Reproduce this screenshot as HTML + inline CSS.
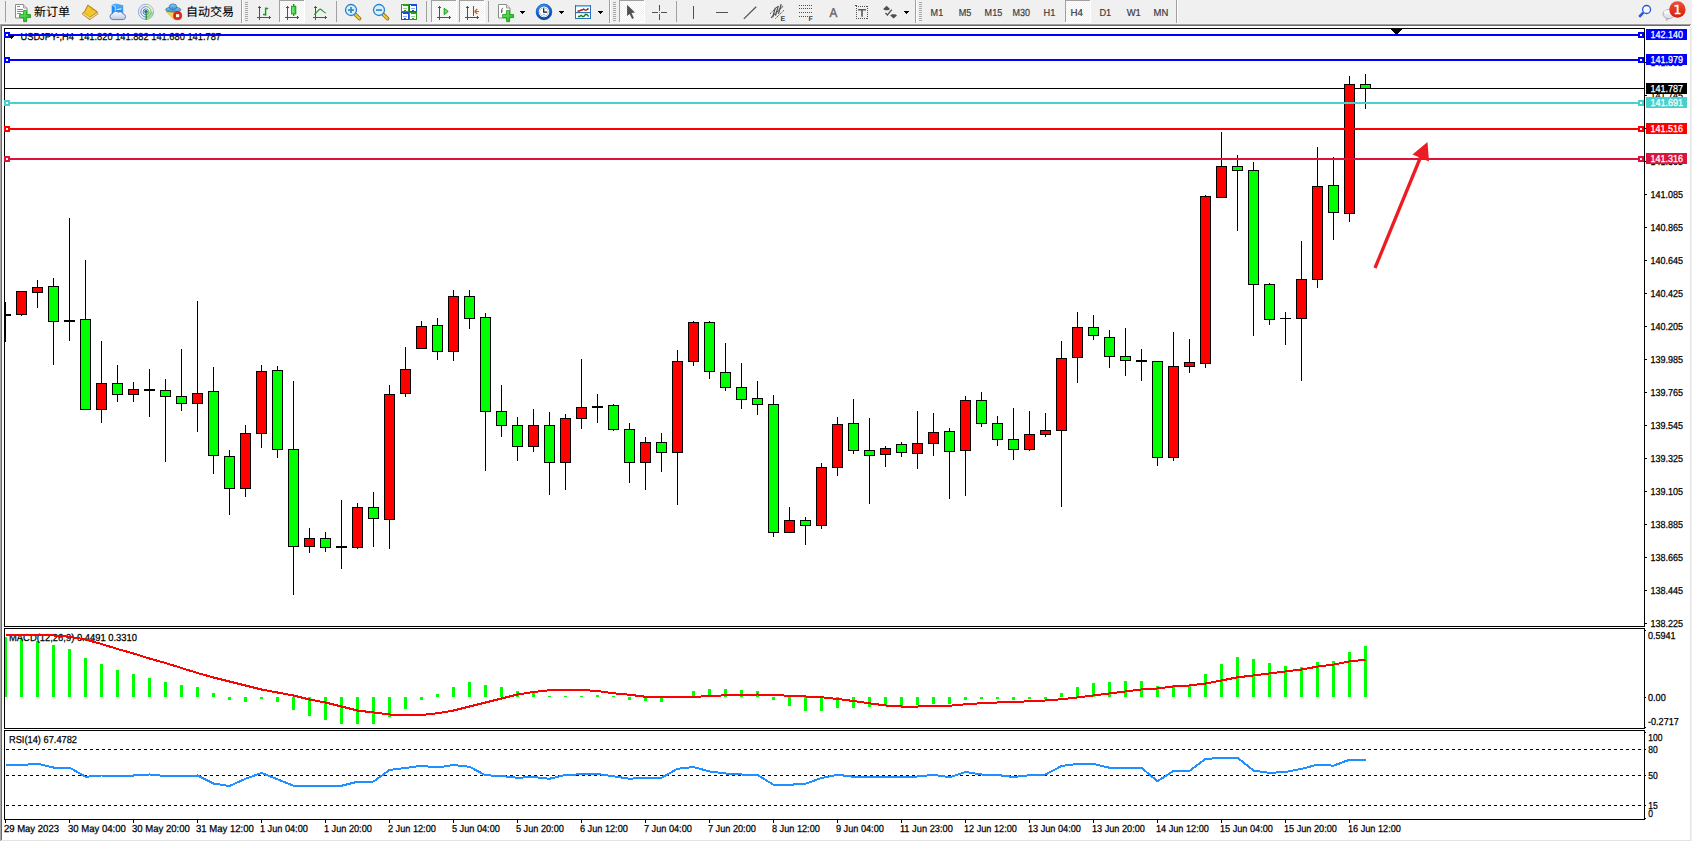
<!DOCTYPE html>
<html><head><meta charset="utf-8"><title>USDJPY-,H4</title>
<style>html,body{margin:0;padding:0;background:#fff}body{width:1692px;height:842px;position:relative;overflow:hidden}text{white-space:pre}</style></head>
<body>
<svg width="1692" height="842" viewBox="0 0 1692 842" shape-rendering="crispEdges" font-family="'Liberation Sans','Noto Sans CJK SC',sans-serif" style="position:absolute;left:0;top:0;display:block;text-rendering:geometricPrecision">
<rect x="0" y="0" width="1692" height="842" fill="#fff"/>
<rect x="0" y="0" width="1692" height="24" fill="#f0f0f0"/>
<rect x="0" y="23" width="1692" height="1" fill="#f3f3f3"/>
<rect x="0" y="24" width="1691" height="1" fill="#a0a0a0"/>
<rect x="0" y="25" width="1690" height="1" fill="#696969"/>
<rect x="0" y="24" width="1" height="817" fill="#a8a8a8"/>
<rect x="1" y="25" width="1" height="815" fill="#696969"/>
<rect x="1690" y="26" width="1" height="815" fill="#e3e3e3"/>
<rect x="1" y="840" width="1690" height="1" fill="#e3e3e3"/>
<rect x="1691" y="0" width="1" height="842" fill="#f0f0f0"/>
<rect x="0" y="841" width="1692" height="1" fill="#fff"/>
<rect x="4" y="28" width="1641" height="1" fill="#000"/>
<rect x="4" y="28" width="1" height="792" fill="#000"/>
<rect x="1644" y="28" width="1" height="792" fill="#000"/>
<rect x="4" y="626" width="1641" height="1" fill="#000"/>
<rect x="4" y="628" width="1641" height="1" fill="#000"/>
<rect x="4" y="728" width="1641" height="1" fill="#000"/>
<rect x="4" y="730" width="1641" height="1" fill="#000"/>
<rect x="4" y="819" width="1641" height="1" fill="#000"/>
<rect x="4" y="627" width="1641" height="1" fill="#fff"/>
<rect x="4" y="729" width="1641" height="1" fill="#fff"/>
<clipPath id="cpm"><rect x="1645" y="29" width="46" height="600"/></clipPath>
<g clip-path="url(#cpm)">
<rect x="1645" y="62" width="2" height="1" fill="#000"/>
<text x="1650.5" y="66" font-size="10.1" fill="#000" stroke="#000" stroke-width="0.25" textLength="32.5" lengthAdjust="spacingAndGlyphs">141.965</text>
<rect x="1645" y="95" width="2" height="1" fill="#000"/>
<text x="1650.5" y="99" font-size="10.1" fill="#000" stroke="#000" stroke-width="0.25" textLength="32.5" lengthAdjust="spacingAndGlyphs">141.745</text>
<rect x="1645" y="128" width="2" height="1" fill="#000"/>
<text x="1650.5" y="132" font-size="10.1" fill="#000" stroke="#000" stroke-width="0.25" textLength="32.5" lengthAdjust="spacingAndGlyphs">141.525</text>
<rect x="1645" y="161" width="2" height="1" fill="#000"/>
<text x="1650.5" y="165" font-size="10.1" fill="#000" stroke="#000" stroke-width="0.25" textLength="32.5" lengthAdjust="spacingAndGlyphs">141.305</text>
<rect x="1645" y="194" width="2" height="1" fill="#000"/>
<text x="1650.5" y="198" font-size="10.1" fill="#000" stroke="#000" stroke-width="0.25" textLength="32.5" lengthAdjust="spacingAndGlyphs">141.085</text>
<rect x="1645" y="227" width="2" height="1" fill="#000"/>
<text x="1650.5" y="231" font-size="10.1" fill="#000" stroke="#000" stroke-width="0.25" textLength="32.5" lengthAdjust="spacingAndGlyphs">140.865</text>
<rect x="1645" y="260" width="2" height="1" fill="#000"/>
<text x="1650.5" y="264" font-size="10.1" fill="#000" stroke="#000" stroke-width="0.25" textLength="32.5" lengthAdjust="spacingAndGlyphs">140.645</text>
<rect x="1645" y="293" width="2" height="1" fill="#000"/>
<text x="1650.5" y="297" font-size="10.1" fill="#000" stroke="#000" stroke-width="0.25" textLength="32.5" lengthAdjust="spacingAndGlyphs">140.425</text>
<rect x="1645" y="326" width="2" height="1" fill="#000"/>
<text x="1650.5" y="330" font-size="10.1" fill="#000" stroke="#000" stroke-width="0.25" textLength="32.5" lengthAdjust="spacingAndGlyphs">140.205</text>
<rect x="1645" y="359" width="2" height="1" fill="#000"/>
<text x="1650.5" y="363" font-size="10.1" fill="#000" stroke="#000" stroke-width="0.25" textLength="32.5" lengthAdjust="spacingAndGlyphs">139.985</text>
<rect x="1645" y="392" width="2" height="1" fill="#000"/>
<text x="1650.5" y="396" font-size="10.1" fill="#000" stroke="#000" stroke-width="0.25" textLength="32.5" lengthAdjust="spacingAndGlyphs">139.765</text>
<rect x="1645" y="425" width="2" height="1" fill="#000"/>
<text x="1650.5" y="429" font-size="10.1" fill="#000" stroke="#000" stroke-width="0.25" textLength="32.5" lengthAdjust="spacingAndGlyphs">139.545</text>
<rect x="1645" y="458" width="2" height="1" fill="#000"/>
<text x="1650.5" y="462" font-size="10.1" fill="#000" stroke="#000" stroke-width="0.25" textLength="32.5" lengthAdjust="spacingAndGlyphs">139.325</text>
<rect x="1645" y="491" width="2" height="1" fill="#000"/>
<text x="1650.5" y="495" font-size="10.1" fill="#000" stroke="#000" stroke-width="0.25" textLength="32.5" lengthAdjust="spacingAndGlyphs">139.105</text>
<rect x="1645" y="524" width="2" height="1" fill="#000"/>
<text x="1650.5" y="528" font-size="10.1" fill="#000" stroke="#000" stroke-width="0.25" textLength="32.5" lengthAdjust="spacingAndGlyphs">138.885</text>
<rect x="1645" y="557" width="2" height="1" fill="#000"/>
<text x="1650.5" y="561" font-size="10.1" fill="#000" stroke="#000" stroke-width="0.25" textLength="32.5" lengthAdjust="spacingAndGlyphs">138.665</text>
<rect x="1645" y="590" width="2" height="1" fill="#000"/>
<text x="1650.5" y="594" font-size="10.1" fill="#000" stroke="#000" stroke-width="0.25" textLength="32.5" lengthAdjust="spacingAndGlyphs">138.445</text>
<rect x="1645" y="623" width="2" height="1" fill="#000"/>
<text x="1650.5" y="627" font-size="10.1" fill="#000" stroke="#000" stroke-width="0.25" textLength="32.5" lengthAdjust="spacingAndGlyphs">138.225</text>
</g>
<text x="20.5" y="40" font-size="10.1" fill="#000" stroke="#000" stroke-width="0.25" textLength="200.5" lengthAdjust="spacingAndGlyphs" xml:space="preserve">USDJPY-,H4&#160;&#160;141.820 141.882 141.680 141.787</text>
<rect x="1391" y="29" width="11" height="1" fill="#000"/>
<rect x="1392" y="30" width="9" height="1" fill="#000"/>
<rect x="1393" y="31" width="7" height="1" fill="#000"/>
<rect x="1394" y="32" width="5" height="1" fill="#000"/>
<rect x="1395" y="33" width="3" height="1" fill="#000"/>
<rect x="1396" y="34" width="1" height="1" fill="#000"/>
<rect x="5" y="88" width="1639" height="1" fill="#000"/>
<rect x="5" y="302" width="1" height="40" fill="#000"/>
<rect x="5" y="314" width="6" height="2" fill="#000"/>
<rect x="21" y="291" width="1" height="25" fill="#000"/>
<rect x="16" y="291" width="11" height="24" fill="#000"/>
<rect x="17" y="292" width="9" height="22" fill="#ff0000"/>
<rect x="37" y="280" width="1" height="28" fill="#000"/>
<rect x="32" y="287" width="11" height="6" fill="#000"/>
<rect x="33" y="288" width="9" height="4" fill="#ff0000"/>
<rect x="53" y="278" width="1" height="87" fill="#000"/>
<rect x="48" y="286" width="11" height="36" fill="#000"/>
<rect x="49" y="287" width="9" height="34" fill="#00ff00"/>
<rect x="69" y="218" width="1" height="123" fill="#000"/>
<rect x="64" y="320" width="11" height="2" fill="#000"/>
<rect x="85" y="260" width="1" height="150" fill="#000"/>
<rect x="80" y="319" width="11" height="91" fill="#000"/>
<rect x="81" y="320" width="9" height="89" fill="#00ff00"/>
<rect x="101" y="341" width="1" height="82" fill="#000"/>
<rect x="96" y="383" width="11" height="27" fill="#000"/>
<rect x="97" y="384" width="9" height="25" fill="#ff0000"/>
<rect x="117" y="365" width="1" height="37" fill="#000"/>
<rect x="112" y="383" width="11" height="12" fill="#000"/>
<rect x="113" y="384" width="9" height="10" fill="#00ff00"/>
<rect x="133" y="382" width="1" height="20" fill="#000"/>
<rect x="128" y="389" width="11" height="6" fill="#000"/>
<rect x="129" y="390" width="9" height="4" fill="#ff0000"/>
<rect x="149" y="369" width="1" height="48" fill="#000"/>
<rect x="144" y="389" width="11" height="2" fill="#000"/>
<rect x="165" y="379" width="1" height="83" fill="#000"/>
<rect x="160" y="390" width="11" height="7" fill="#000"/>
<rect x="161" y="391" width="9" height="5" fill="#00ff00"/>
<rect x="181" y="349" width="1" height="62" fill="#000"/>
<rect x="176" y="396" width="11" height="8" fill="#000"/>
<rect x="177" y="397" width="9" height="6" fill="#00ff00"/>
<rect x="197" y="301" width="1" height="131" fill="#000"/>
<rect x="192" y="393" width="11" height="11" fill="#000"/>
<rect x="193" y="394" width="9" height="9" fill="#ff0000"/>
<rect x="213" y="367" width="1" height="107" fill="#000"/>
<rect x="208" y="391" width="11" height="65" fill="#000"/>
<rect x="209" y="392" width="9" height="63" fill="#00ff00"/>
<rect x="229" y="450" width="1" height="65" fill="#000"/>
<rect x="224" y="456" width="11" height="33" fill="#000"/>
<rect x="225" y="457" width="9" height="31" fill="#00ff00"/>
<rect x="245" y="425" width="1" height="72" fill="#000"/>
<rect x="240" y="433" width="11" height="56" fill="#000"/>
<rect x="241" y="434" width="9" height="54" fill="#ff0000"/>
<rect x="261" y="365" width="1" height="83" fill="#000"/>
<rect x="256" y="371" width="11" height="63" fill="#000"/>
<rect x="257" y="372" width="9" height="61" fill="#ff0000"/>
<rect x="277" y="366" width="1" height="92" fill="#000"/>
<rect x="272" y="370" width="11" height="80" fill="#000"/>
<rect x="273" y="371" width="9" height="78" fill="#00ff00"/>
<rect x="293" y="381" width="1" height="214" fill="#000"/>
<rect x="288" y="449" width="11" height="98" fill="#000"/>
<rect x="289" y="450" width="9" height="96" fill="#00ff00"/>
<rect x="309" y="528" width="1" height="25" fill="#000"/>
<rect x="304" y="538" width="11" height="9" fill="#000"/>
<rect x="305" y="539" width="9" height="7" fill="#ff0000"/>
<rect x="325" y="532" width="1" height="20" fill="#000"/>
<rect x="320" y="538" width="11" height="10" fill="#000"/>
<rect x="321" y="539" width="9" height="8" fill="#00ff00"/>
<rect x="341" y="500" width="1" height="69" fill="#000"/>
<rect x="336" y="546" width="11" height="2" fill="#000"/>
<rect x="357" y="503" width="1" height="46" fill="#000"/>
<rect x="352" y="507" width="11" height="41" fill="#000"/>
<rect x="353" y="508" width="9" height="39" fill="#ff0000"/>
<rect x="373" y="492" width="1" height="55" fill="#000"/>
<rect x="368" y="507" width="11" height="12" fill="#000"/>
<rect x="369" y="508" width="9" height="10" fill="#00ff00"/>
<rect x="389" y="385" width="1" height="164" fill="#000"/>
<rect x="384" y="394" width="11" height="126" fill="#000"/>
<rect x="385" y="395" width="9" height="124" fill="#ff0000"/>
<rect x="405" y="347" width="1" height="50" fill="#000"/>
<rect x="400" y="369" width="11" height="25" fill="#000"/>
<rect x="401" y="370" width="9" height="23" fill="#ff0000"/>
<rect x="421" y="321" width="1" height="28" fill="#000"/>
<rect x="416" y="326" width="11" height="23" fill="#000"/>
<rect x="417" y="327" width="9" height="21" fill="#ff0000"/>
<rect x="437" y="318" width="1" height="42" fill="#000"/>
<rect x="432" y="325" width="11" height="27" fill="#000"/>
<rect x="433" y="326" width="9" height="25" fill="#00ff00"/>
<rect x="453" y="290" width="1" height="71" fill="#000"/>
<rect x="448" y="296" width="11" height="56" fill="#000"/>
<rect x="449" y="297" width="9" height="54" fill="#ff0000"/>
<rect x="469" y="290" width="1" height="39" fill="#000"/>
<rect x="464" y="296" width="11" height="23" fill="#000"/>
<rect x="465" y="297" width="9" height="21" fill="#00ff00"/>
<rect x="485" y="313" width="1" height="158" fill="#000"/>
<rect x="480" y="317" width="11" height="95" fill="#000"/>
<rect x="481" y="318" width="9" height="93" fill="#00ff00"/>
<rect x="501" y="385" width="1" height="52" fill="#000"/>
<rect x="496" y="411" width="11" height="15" fill="#000"/>
<rect x="497" y="412" width="9" height="13" fill="#00ff00"/>
<rect x="517" y="417" width="1" height="44" fill="#000"/>
<rect x="512" y="425" width="11" height="22" fill="#000"/>
<rect x="513" y="426" width="9" height="20" fill="#00ff00"/>
<rect x="533" y="409" width="1" height="43" fill="#000"/>
<rect x="528" y="425" width="11" height="22" fill="#000"/>
<rect x="529" y="426" width="9" height="20" fill="#ff0000"/>
<rect x="549" y="412" width="1" height="83" fill="#000"/>
<rect x="544" y="425" width="11" height="38" fill="#000"/>
<rect x="545" y="426" width="9" height="36" fill="#00ff00"/>
<rect x="565" y="414" width="1" height="76" fill="#000"/>
<rect x="560" y="418" width="11" height="45" fill="#000"/>
<rect x="561" y="419" width="9" height="43" fill="#ff0000"/>
<rect x="581" y="359" width="1" height="70" fill="#000"/>
<rect x="576" y="407" width="11" height="12" fill="#000"/>
<rect x="577" y="408" width="9" height="10" fill="#ff0000"/>
<rect x="597" y="394" width="1" height="29" fill="#000"/>
<rect x="592" y="406" width="11" height="2" fill="#000"/>
<rect x="613" y="404" width="1" height="27" fill="#000"/>
<rect x="608" y="405" width="11" height="25" fill="#000"/>
<rect x="609" y="406" width="9" height="23" fill="#00ff00"/>
<rect x="629" y="423" width="1" height="60" fill="#000"/>
<rect x="624" y="429" width="11" height="34" fill="#000"/>
<rect x="625" y="430" width="9" height="32" fill="#00ff00"/>
<rect x="645" y="437" width="1" height="53" fill="#000"/>
<rect x="640" y="442" width="11" height="21" fill="#000"/>
<rect x="641" y="443" width="9" height="19" fill="#ff0000"/>
<rect x="661" y="433" width="1" height="39" fill="#000"/>
<rect x="656" y="442" width="11" height="11" fill="#000"/>
<rect x="657" y="443" width="9" height="9" fill="#00ff00"/>
<rect x="677" y="350" width="1" height="155" fill="#000"/>
<rect x="672" y="361" width="11" height="92" fill="#000"/>
<rect x="673" y="362" width="9" height="90" fill="#ff0000"/>
<rect x="693" y="321" width="1" height="45" fill="#000"/>
<rect x="688" y="322" width="11" height="40" fill="#000"/>
<rect x="689" y="323" width="9" height="38" fill="#ff0000"/>
<rect x="709" y="321" width="1" height="58" fill="#000"/>
<rect x="704" y="322" width="11" height="50" fill="#000"/>
<rect x="705" y="323" width="9" height="48" fill="#00ff00"/>
<rect x="725" y="343" width="1" height="48" fill="#000"/>
<rect x="720" y="372" width="11" height="16" fill="#000"/>
<rect x="721" y="373" width="9" height="14" fill="#00ff00"/>
<rect x="741" y="363" width="1" height="46" fill="#000"/>
<rect x="736" y="387" width="11" height="13" fill="#000"/>
<rect x="737" y="388" width="9" height="11" fill="#00ff00"/>
<rect x="757" y="381" width="1" height="34" fill="#000"/>
<rect x="752" y="398" width="11" height="7" fill="#000"/>
<rect x="753" y="399" width="9" height="5" fill="#00ff00"/>
<rect x="773" y="395" width="1" height="142" fill="#000"/>
<rect x="768" y="404" width="11" height="129" fill="#000"/>
<rect x="769" y="405" width="9" height="127" fill="#00ff00"/>
<rect x="789" y="507" width="1" height="26" fill="#000"/>
<rect x="784" y="520" width="11" height="13" fill="#000"/>
<rect x="785" y="521" width="9" height="11" fill="#ff0000"/>
<rect x="805" y="517" width="1" height="28" fill="#000"/>
<rect x="800" y="520" width="11" height="6" fill="#000"/>
<rect x="801" y="521" width="9" height="4" fill="#00ff00"/>
<rect x="821" y="463" width="1" height="66" fill="#000"/>
<rect x="816" y="467" width="11" height="59" fill="#000"/>
<rect x="817" y="468" width="9" height="57" fill="#ff0000"/>
<rect x="837" y="417" width="1" height="59" fill="#000"/>
<rect x="832" y="424" width="11" height="44" fill="#000"/>
<rect x="833" y="425" width="9" height="42" fill="#ff0000"/>
<rect x="853" y="399" width="1" height="55" fill="#000"/>
<rect x="848" y="423" width="11" height="28" fill="#000"/>
<rect x="849" y="424" width="9" height="26" fill="#00ff00"/>
<rect x="869" y="418" width="1" height="86" fill="#000"/>
<rect x="864" y="450" width="11" height="6" fill="#000"/>
<rect x="865" y="451" width="9" height="4" fill="#00ff00"/>
<rect x="885" y="446" width="1" height="21" fill="#000"/>
<rect x="880" y="448" width="11" height="7" fill="#000"/>
<rect x="881" y="449" width="9" height="5" fill="#ff0000"/>
<rect x="901" y="442" width="1" height="15" fill="#000"/>
<rect x="896" y="444" width="11" height="9" fill="#000"/>
<rect x="897" y="445" width="9" height="7" fill="#00ff00"/>
<rect x="917" y="411" width="1" height="58" fill="#000"/>
<rect x="912" y="443" width="11" height="11" fill="#000"/>
<rect x="913" y="444" width="9" height="9" fill="#ff0000"/>
<rect x="933" y="413" width="1" height="43" fill="#000"/>
<rect x="928" y="432" width="11" height="12" fill="#000"/>
<rect x="929" y="433" width="9" height="10" fill="#ff0000"/>
<rect x="949" y="428" width="1" height="71" fill="#000"/>
<rect x="944" y="431" width="11" height="21" fill="#000"/>
<rect x="945" y="432" width="9" height="19" fill="#00ff00"/>
<rect x="965" y="396" width="1" height="100" fill="#000"/>
<rect x="960" y="400" width="11" height="51" fill="#000"/>
<rect x="961" y="401" width="9" height="49" fill="#ff0000"/>
<rect x="981" y="392" width="1" height="35" fill="#000"/>
<rect x="976" y="400" width="11" height="24" fill="#000"/>
<rect x="977" y="401" width="9" height="22" fill="#00ff00"/>
<rect x="997" y="416" width="1" height="30" fill="#000"/>
<rect x="992" y="423" width="11" height="17" fill="#000"/>
<rect x="993" y="424" width="9" height="15" fill="#00ff00"/>
<rect x="1013" y="408" width="1" height="52" fill="#000"/>
<rect x="1008" y="439" width="11" height="11" fill="#000"/>
<rect x="1009" y="440" width="9" height="9" fill="#00ff00"/>
<rect x="1029" y="411" width="1" height="40" fill="#000"/>
<rect x="1024" y="434" width="11" height="16" fill="#000"/>
<rect x="1025" y="435" width="9" height="14" fill="#ff0000"/>
<rect x="1045" y="413" width="1" height="24" fill="#000"/>
<rect x="1040" y="430" width="11" height="5" fill="#000"/>
<rect x="1041" y="431" width="9" height="3" fill="#ff0000"/>
<rect x="1061" y="341" width="1" height="166" fill="#000"/>
<rect x="1056" y="358" width="11" height="73" fill="#000"/>
<rect x="1057" y="359" width="9" height="71" fill="#ff0000"/>
<rect x="1077" y="312" width="1" height="71" fill="#000"/>
<rect x="1072" y="327" width="11" height="31" fill="#000"/>
<rect x="1073" y="328" width="9" height="29" fill="#ff0000"/>
<rect x="1093" y="315" width="1" height="25" fill="#000"/>
<rect x="1088" y="327" width="11" height="9" fill="#000"/>
<rect x="1089" y="328" width="9" height="7" fill="#00ff00"/>
<rect x="1109" y="330" width="1" height="38" fill="#000"/>
<rect x="1104" y="337" width="11" height="20" fill="#000"/>
<rect x="1105" y="338" width="9" height="18" fill="#00ff00"/>
<rect x="1125" y="328" width="1" height="48" fill="#000"/>
<rect x="1120" y="356" width="11" height="5" fill="#000"/>
<rect x="1121" y="357" width="9" height="3" fill="#00ff00"/>
<rect x="1141" y="349" width="1" height="32" fill="#000"/>
<rect x="1136" y="360" width="11" height="2" fill="#000"/>
<rect x="1157" y="361" width="1" height="105" fill="#000"/>
<rect x="1152" y="361" width="11" height="97" fill="#000"/>
<rect x="1153" y="362" width="9" height="95" fill="#00ff00"/>
<rect x="1173" y="332" width="1" height="129" fill="#000"/>
<rect x="1168" y="366" width="11" height="92" fill="#000"/>
<rect x="1169" y="367" width="9" height="90" fill="#ff0000"/>
<rect x="1189" y="339" width="1" height="34" fill="#000"/>
<rect x="1184" y="362" width="11" height="5" fill="#000"/>
<rect x="1185" y="363" width="9" height="3" fill="#ff0000"/>
<rect x="1205" y="195" width="1" height="173" fill="#000"/>
<rect x="1200" y="196" width="11" height="168" fill="#000"/>
<rect x="1201" y="197" width="9" height="166" fill="#ff0000"/>
<rect x="1221" y="132" width="1" height="66" fill="#000"/>
<rect x="1216" y="166" width="11" height="32" fill="#000"/>
<rect x="1217" y="167" width="9" height="30" fill="#ff0000"/>
<rect x="1237" y="155" width="1" height="76" fill="#000"/>
<rect x="1232" y="166" width="11" height="5" fill="#000"/>
<rect x="1233" y="167" width="9" height="3" fill="#00ff00"/>
<rect x="1253" y="162" width="1" height="174" fill="#000"/>
<rect x="1248" y="170" width="11" height="115" fill="#000"/>
<rect x="1249" y="171" width="9" height="113" fill="#00ff00"/>
<rect x="1269" y="283" width="1" height="42" fill="#000"/>
<rect x="1264" y="284" width="11" height="36" fill="#000"/>
<rect x="1265" y="285" width="9" height="34" fill="#00ff00"/>
<rect x="1285" y="312" width="1" height="33" fill="#000"/>
<rect x="1280" y="318" width="11" height="1" fill="#000"/>
<rect x="1301" y="241" width="1" height="140" fill="#000"/>
<rect x="1296" y="279" width="11" height="40" fill="#000"/>
<rect x="1297" y="280" width="9" height="38" fill="#ff0000"/>
<rect x="1317" y="147" width="1" height="141" fill="#000"/>
<rect x="1312" y="186" width="11" height="94" fill="#000"/>
<rect x="1313" y="187" width="9" height="92" fill="#ff0000"/>
<rect x="1333" y="157" width="1" height="83" fill="#000"/>
<rect x="1328" y="185" width="11" height="28" fill="#000"/>
<rect x="1329" y="186" width="9" height="26" fill="#00ff00"/>
<rect x="1349" y="76" width="1" height="146" fill="#000"/>
<rect x="1344" y="84" width="11" height="130" fill="#000"/>
<rect x="1345" y="85" width="9" height="128" fill="#ff0000"/>
<rect x="1365" y="74" width="1" height="35" fill="#000"/>
<rect x="1360" y="84" width="11" height="5" fill="#000"/>
<rect x="1361" y="85" width="9" height="3" fill="#00ff00"/>
<rect x="5" y="34" width="1639" height="2" fill="#0000ff"/>
<rect x="4" y="32" width="6" height="6" fill="#0000ff"/>
<rect x="6" y="34" width="2" height="2" fill="#fff"/>
<rect x="1638" y="32" width="6" height="6" fill="#0000ff"/>
<rect x="1640" y="34" width="2" height="2" fill="#fff"/>
<rect x="1646" y="29" width="41" height="11" fill="#0000ff"/>
<text x="1650.5" y="38" font-size="10.1" fill="#fff" stroke="#fff" stroke-width="0.25" textLength="32.5" lengthAdjust="spacingAndGlyphs">142.140</text>
<rect x="5" y="59" width="1639" height="2" fill="#0000ff"/>
<rect x="4" y="57" width="6" height="6" fill="#0000ff"/>
<rect x="6" y="59" width="2" height="2" fill="#fff"/>
<rect x="1638" y="57" width="6" height="6" fill="#0000ff"/>
<rect x="1640" y="59" width="2" height="2" fill="#fff"/>
<rect x="1646" y="54" width="41" height="11" fill="#0000ff"/>
<text x="1650.5" y="63" font-size="10.1" fill="#fff" stroke="#fff" stroke-width="0.25" textLength="32.5" lengthAdjust="spacingAndGlyphs">141.979</text>
<rect x="5" y="102" width="1639" height="2" fill="#48d1cc"/>
<rect x="4" y="100" width="6" height="6" fill="#48d1cc"/>
<rect x="6" y="102" width="2" height="2" fill="#fff"/>
<rect x="1638" y="100" width="6" height="6" fill="#48d1cc"/>
<rect x="1640" y="102" width="2" height="2" fill="#fff"/>
<rect x="1646" y="97" width="41" height="11" fill="#48d1cc"/>
<text x="1650.5" y="106" font-size="10.1" fill="#fff" stroke="#fff" stroke-width="0.25" textLength="32.5" lengthAdjust="spacingAndGlyphs">141.691</text>
<rect x="5" y="128" width="1639" height="2" fill="#ff0000"/>
<rect x="4" y="126" width="6" height="6" fill="#ff0000"/>
<rect x="6" y="128" width="2" height="2" fill="#fff"/>
<rect x="1638" y="126" width="6" height="6" fill="#ff0000"/>
<rect x="1640" y="128" width="2" height="2" fill="#fff"/>
<rect x="1646" y="123" width="41" height="11" fill="#ff0000"/>
<text x="1650.5" y="132" font-size="10.1" fill="#fff" stroke="#fff" stroke-width="0.25" textLength="32.5" lengthAdjust="spacingAndGlyphs">141.516</text>
<rect x="5" y="158" width="1639" height="2" fill="#dc143c"/>
<rect x="4" y="156" width="6" height="6" fill="#dc143c"/>
<rect x="6" y="158" width="2" height="2" fill="#fff"/>
<rect x="1638" y="156" width="6" height="6" fill="#dc143c"/>
<rect x="1640" y="158" width="2" height="2" fill="#fff"/>
<rect x="1646" y="153" width="41" height="11" fill="#dc143c"/>
<text x="1650.5" y="162" font-size="10.1" fill="#fff" stroke="#fff" stroke-width="0.25" textLength="32.5" lengthAdjust="spacingAndGlyphs">141.316</text>
<rect x="8" y="35" width="7" height="1" fill="#000"/>
<rect x="9" y="36" width="5" height="1" fill="#000"/>
<rect x="10" y="37" width="3" height="1" fill="#000"/>
<rect x="11" y="38" width="1" height="1" fill="#000"/>
<rect x="1646" y="83" width="41" height="11" fill="#000"/>
<text x="1650.5" y="92" font-size="10.1" fill="#fff" stroke="#fff" stroke-width="0.25" textLength="32.5" lengthAdjust="spacingAndGlyphs">141.787</text>
<g shape-rendering="geometricPrecision">
<line x1="1375" y1="268" x2="1421" y2="156" stroke="#ed1c24" stroke-width="3.3"/>
<polygon points="1427.5,142 1412.5,154.5 1429,161.5" fill="#ed1c24"/>
</g>
<rect x="5" y="637" width="2" height="60" fill="#00ff00"/>
<rect x="20" y="639" width="3" height="58" fill="#00ff00"/>
<rect x="36" y="641" width="3" height="56" fill="#00ff00"/>
<rect x="52" y="645" width="3" height="52" fill="#00ff00"/>
<rect x="68" y="649" width="3" height="48" fill="#00ff00"/>
<rect x="84" y="658" width="3" height="39" fill="#00ff00"/>
<rect x="100" y="664" width="3" height="33" fill="#00ff00"/>
<rect x="116" y="670" width="3" height="27" fill="#00ff00"/>
<rect x="132" y="674" width="3" height="23" fill="#00ff00"/>
<rect x="148" y="678" width="3" height="19" fill="#00ff00"/>
<rect x="164" y="682" width="3" height="15" fill="#00ff00"/>
<rect x="180" y="685" width="3" height="12" fill="#00ff00"/>
<rect x="196" y="687" width="3" height="10" fill="#00ff00"/>
<rect x="212" y="693" width="3" height="4" fill="#00ff00"/>
<rect x="228" y="697" width="3" height="3" fill="#00ff00"/>
<rect x="244" y="697" width="3" height="5" fill="#00ff00"/>
<rect x="260" y="697" width="3" height="2" fill="#00ff00"/>
<rect x="276" y="697" width="3" height="5" fill="#00ff00"/>
<rect x="292" y="697" width="3" height="13" fill="#00ff00"/>
<rect x="308" y="697" width="3" height="19" fill="#00ff00"/>
<rect x="324" y="697" width="3" height="23" fill="#00ff00"/>
<rect x="340" y="697" width="3" height="27" fill="#00ff00"/>
<rect x="356" y="697" width="3" height="27" fill="#00ff00"/>
<rect x="372" y="697" width="3" height="27" fill="#00ff00"/>
<rect x="388" y="697" width="3" height="20" fill="#00ff00"/>
<rect x="404" y="697" width="3" height="12" fill="#00ff00"/>
<rect x="420" y="697" width="3" height="3" fill="#00ff00"/>
<rect x="436" y="694" width="3" height="3" fill="#00ff00"/>
<rect x="452" y="687" width="3" height="10" fill="#00ff00"/>
<rect x="468" y="682" width="3" height="15" fill="#00ff00"/>
<rect x="484" y="685" width="3" height="12" fill="#00ff00"/>
<rect x="500" y="687" width="3" height="10" fill="#00ff00"/>
<rect x="516" y="691" width="3" height="6" fill="#00ff00"/>
<rect x="532" y="692" width="3" height="5" fill="#00ff00"/>
<rect x="548" y="696" width="3" height="1" fill="#00ff00"/>
<rect x="564" y="696" width="3" height="1" fill="#00ff00"/>
<rect x="580" y="696" width="3" height="1" fill="#00ff00"/>
<rect x="596" y="695" width="3" height="2" fill="#00ff00"/>
<rect x="612" y="696" width="3" height="1" fill="#00ff00"/>
<rect x="628" y="697" width="3" height="3" fill="#00ff00"/>
<rect x="644" y="697" width="3" height="4" fill="#00ff00"/>
<rect x="660" y="697" width="3" height="5" fill="#00ff00"/>
<rect x="692" y="691" width="3" height="6" fill="#00ff00"/>
<rect x="708" y="689" width="3" height="8" fill="#00ff00"/>
<rect x="724" y="689" width="3" height="8" fill="#00ff00"/>
<rect x="740" y="690" width="3" height="7" fill="#00ff00"/>
<rect x="756" y="691" width="3" height="6" fill="#00ff00"/>
<rect x="772" y="697" width="3" height="3" fill="#00ff00"/>
<rect x="788" y="697" width="3" height="9" fill="#00ff00"/>
<rect x="804" y="697" width="3" height="14" fill="#00ff00"/>
<rect x="820" y="697" width="3" height="14" fill="#00ff00"/>
<rect x="836" y="697" width="3" height="11" fill="#00ff00"/>
<rect x="852" y="697" width="3" height="11" fill="#00ff00"/>
<rect x="868" y="697" width="3" height="10" fill="#00ff00"/>
<rect x="884" y="697" width="3" height="9" fill="#00ff00"/>
<rect x="900" y="697" width="3" height="9" fill="#00ff00"/>
<rect x="916" y="697" width="3" height="8" fill="#00ff00"/>
<rect x="932" y="697" width="3" height="7" fill="#00ff00"/>
<rect x="948" y="697" width="3" height="7" fill="#00ff00"/>
<rect x="964" y="697" width="3" height="3" fill="#00ff00"/>
<rect x="980" y="697" width="3" height="2" fill="#00ff00"/>
<rect x="996" y="697" width="3" height="2" fill="#00ff00"/>
<rect x="1012" y="697" width="3" height="3" fill="#00ff00"/>
<rect x="1028" y="697" width="3" height="2" fill="#00ff00"/>
<rect x="1044" y="697" width="3" height="2" fill="#00ff00"/>
<rect x="1060" y="693" width="3" height="4" fill="#00ff00"/>
<rect x="1076" y="687" width="3" height="10" fill="#00ff00"/>
<rect x="1092" y="683" width="3" height="14" fill="#00ff00"/>
<rect x="1108" y="682" width="3" height="15" fill="#00ff00"/>
<rect x="1124" y="681" width="3" height="16" fill="#00ff00"/>
<rect x="1140" y="681" width="3" height="16" fill="#00ff00"/>
<rect x="1156" y="686" width="3" height="11" fill="#00ff00"/>
<rect x="1172" y="685" width="3" height="12" fill="#00ff00"/>
<rect x="1188" y="686" width="3" height="11" fill="#00ff00"/>
<rect x="1204" y="674" width="3" height="23" fill="#00ff00"/>
<rect x="1220" y="664" width="3" height="33" fill="#00ff00"/>
<rect x="1236" y="657" width="3" height="40" fill="#00ff00"/>
<rect x="1252" y="659" width="3" height="38" fill="#00ff00"/>
<rect x="1268" y="663" width="3" height="34" fill="#00ff00"/>
<rect x="1284" y="666" width="3" height="31" fill="#00ff00"/>
<rect x="1300" y="667" width="3" height="30" fill="#00ff00"/>
<rect x="1316" y="662" width="3" height="35" fill="#00ff00"/>
<rect x="1332" y="661" width="3" height="36" fill="#00ff00"/>
<rect x="1348" y="652" width="3" height="45" fill="#00ff00"/>
<rect x="1364" y="646" width="3" height="51" fill="#00ff00"/>
<text x="9" y="641" font-size="10.1" fill="#000" stroke="#000" stroke-width="0.25" textLength="128" lengthAdjust="spacingAndGlyphs">MACD(12,26,9) 0.4491 0.3310</text>
<polyline points="5.5,634.5 21.5,634.5 37.5,634.5 53.5,635.5 69.5,636.75 85.5,639.5 101.5,644 117.5,649 133.5,653.5 149.5,658.5 165.5,663 181.5,668 197.5,673 213.5,677.5 229.5,681.5 245.5,685.5 261.5,689.5 277.5,692.5 293.5,695.5 309.5,699.5 325.5,702.5 341.5,706.5 357.5,710.5 373.5,712.5 389.5,714.5 405.5,715 421.5,715 437.5,713.25 453.5,710.5 469.5,706.5 485.5,702.5 501.5,698.5 517.5,694.5 533.5,692 549.5,690.25 565.5,690 581.5,690 597.5,691 613.5,693.25 629.5,694.75 645.5,696.75 661.5,696.75 677.5,696.75 693.5,696.75 709.5,696.25 725.5,695.25 741.5,695 757.5,694.5 773.5,695 789.5,695.75 805.5,696.5 821.5,697.25 837.5,699 853.5,701 869.5,703.25 885.5,705.5 901.5,706.5 917.5,706.5 933.5,706.25 949.5,705.75 965.5,704.25 981.5,703.25 997.5,702.5 1013.5,702 1029.5,701.25 1045.5,700.5 1061.5,699.25 1077.5,697.5 1093.5,695.5 1109.5,693.5 1125.5,691.5 1141.5,689.5 1157.5,688.5 1173.5,686.5 1189.5,685.5 1205.5,683.5 1221.5,680.5 1237.5,677.3 1253.5,675.5 1269.5,673.5 1285.5,671.5 1301.5,669.5 1317.5,666.6 1333.5,664.6 1349.5,661.4 1365.5,659.7" fill="none" stroke="#ff0000" stroke-width="2"/>
<text x="1648" y="639" font-size="10.1" fill="#000" stroke="#000" stroke-width="0.25" textLength="27.6" lengthAdjust="spacingAndGlyphs">0.5941</text>
<rect x="1645" y="697" width="1" height="1" fill="#000"/>
<rect x="1645" y="727" width="1" height="1" fill="#000"/>
<rect x="1645" y="732" width="1" height="1" fill="#000"/>
<text x="1648" y="701" font-size="10.1" fill="#000" stroke="#000" stroke-width="0.25" textLength="17.8" lengthAdjust="spacingAndGlyphs">0.00</text>
<text x="1648" y="725" font-size="10.1" fill="#000" stroke="#000" stroke-width="0.25" textLength="30.8" lengthAdjust="spacingAndGlyphs">-0.2717</text>
<rect x="1645" y="630" width="1" height="1" fill="#000"/>
<line x1="6" y1="749.5" x2="1644" y2="749.5" stroke="#000" stroke-width="1" stroke-dasharray="3 3"/>
<line x1="6" y1="775.5" x2="1644" y2="775.5" stroke="#000" stroke-width="1" stroke-dasharray="3 3"/>
<line x1="6" y1="805.5" x2="1644" y2="805.5" stroke="#000" stroke-width="1" stroke-dasharray="3 3"/>
<polyline points="5.5,765 21.5,765 37.5,763.75 53.5,767.5 69.5,767.5 85.5,776.75 101.5,775.5 117.5,775.5 133.5,775.5 149.5,774.5 165.5,776 181.5,776.5 197.5,775.5 213.5,783.5 229.5,786 245.5,778.75 261.5,773 277.5,779.25 293.5,785.75 309.5,785.75 325.5,785.75 341.5,785.75 357.5,781.75 373.5,781.5 389.5,770 405.5,768 421.5,765.75 437.5,767.5 453.5,765 469.5,766.75 485.5,775.25 501.5,776 517.5,777.75 533.5,777 549.5,778.75 565.5,775 581.5,774.25 597.5,774 613.5,776.25 629.5,778.75 645.5,777.75 661.5,777.75 677.5,768.75 693.5,767 709.5,771.5 725.5,773.5 741.5,774.5 757.5,775 773.5,784.75 789.5,784.75 805.5,783.75 821.5,778 837.5,774.75 853.5,776.75 869.5,776.75 885.5,776.75 901.5,776.75 917.5,776.5 933.5,774.75 949.5,777.25 965.5,772 981.5,774.5 997.5,775 1013.5,777 1029.5,775.25 1045.5,774.5 1061.5,766 1077.5,764 1093.5,764 1109.5,767.75 1125.5,767.75 1141.5,767.75 1157.5,781.25 1173.5,771 1189.5,771 1205.5,759 1221.5,757.75 1237.5,757.6 1253.5,770.6 1269.5,772.9 1285.5,772 1301.5,768.9 1317.5,764.6 1333.5,765.7 1349.5,759.7 1365.5,759.7" fill="none" stroke="#1e90ff" stroke-width="2"/>
<text x="9" y="743" font-size="10.1" fill="#000" stroke="#000" stroke-width="0.25" textLength="68" lengthAdjust="spacingAndGlyphs">RSI(14) 67.4782</text>
<text x="1648.3" y="741" font-size="10.1" fill="#000" stroke="#000" stroke-width="0.25" textLength="14.25" lengthAdjust="spacingAndGlyphs">100</text>
<text x="1648.3" y="753" font-size="10.1" fill="#000" stroke="#000" stroke-width="0.25" textLength="9.5" lengthAdjust="spacingAndGlyphs">80</text>
<text x="1648.3" y="779" font-size="10.1" fill="#000" stroke="#000" stroke-width="0.25" textLength="9.5" lengthAdjust="spacingAndGlyphs">50</text>
<text x="1648.3" y="809" font-size="10.1" fill="#000" stroke="#000" stroke-width="0.25" textLength="9.5" lengthAdjust="spacingAndGlyphs">15</text>
<text x="1648.3" y="817" font-size="10.1" fill="#000" stroke="#000" stroke-width="0.25" textLength="4.75" lengthAdjust="spacingAndGlyphs">0</text>
<rect x="1645" y="749" width="1" height="1" fill="#000"/>
<rect x="1645" y="775" width="1" height="1" fill="#000"/>
<rect x="1645" y="805" width="1" height="1" fill="#000"/>
<rect x="1645" y="818" width="1" height="1" fill="#000"/>
<rect x="5" y="820" width="1" height="3" fill="#000"/>
<text x="3.9" y="832" font-size="10.1" fill="#000" stroke="#000" stroke-width="0.25" textLength="55.099999999999994" lengthAdjust="spacingAndGlyphs">29 May 2023</text>
<rect x="69" y="820" width="1" height="3" fill="#000"/>
<text x="67.9" y="832" font-size="10.1" fill="#000" stroke="#000" stroke-width="0.25" textLength="58.0" lengthAdjust="spacingAndGlyphs">30 May 04:00</text>
<rect x="133" y="820" width="1" height="3" fill="#000"/>
<text x="131.9" y="832" font-size="10.1" fill="#000" stroke="#000" stroke-width="0.25" textLength="58.0" lengthAdjust="spacingAndGlyphs">30 May 20:00</text>
<rect x="197" y="820" width="1" height="3" fill="#000"/>
<text x="195.9" y="832" font-size="10.1" fill="#000" stroke="#000" stroke-width="0.25" textLength="58.0" lengthAdjust="spacingAndGlyphs">31 May 12:00</text>
<rect x="261" y="820" width="1" height="3" fill="#000"/>
<text x="259.9" y="832" font-size="10.1" fill="#000" stroke="#000" stroke-width="0.25" textLength="48.0" lengthAdjust="spacingAndGlyphs">1 Jun 04:00</text>
<rect x="325" y="820" width="1" height="3" fill="#000"/>
<text x="323.9" y="832" font-size="10.1" fill="#000" stroke="#000" stroke-width="0.25" textLength="48.0" lengthAdjust="spacingAndGlyphs">1 Jun 20:00</text>
<rect x="389" y="820" width="1" height="3" fill="#000"/>
<text x="387.9" y="832" font-size="10.1" fill="#000" stroke="#000" stroke-width="0.25" textLength="48.0" lengthAdjust="spacingAndGlyphs">2 Jun 12:00</text>
<rect x="453" y="820" width="1" height="3" fill="#000"/>
<text x="451.9" y="832" font-size="10.1" fill="#000" stroke="#000" stroke-width="0.25" textLength="48.0" lengthAdjust="spacingAndGlyphs">5 Jun 04:00</text>
<rect x="517" y="820" width="1" height="3" fill="#000"/>
<text x="515.9" y="832" font-size="10.1" fill="#000" stroke="#000" stroke-width="0.25" textLength="48.0" lengthAdjust="spacingAndGlyphs">5 Jun 20:00</text>
<rect x="581" y="820" width="1" height="3" fill="#000"/>
<text x="579.9" y="832" font-size="10.1" fill="#000" stroke="#000" stroke-width="0.25" textLength="48.0" lengthAdjust="spacingAndGlyphs">6 Jun 12:00</text>
<rect x="645" y="820" width="1" height="3" fill="#000"/>
<text x="643.9" y="832" font-size="10.1" fill="#000" stroke="#000" stroke-width="0.25" textLength="48.0" lengthAdjust="spacingAndGlyphs">7 Jun 04:00</text>
<rect x="709" y="820" width="1" height="3" fill="#000"/>
<text x="707.9" y="832" font-size="10.1" fill="#000" stroke="#000" stroke-width="0.25" textLength="48.0" lengthAdjust="spacingAndGlyphs">7 Jun 20:00</text>
<rect x="773" y="820" width="1" height="3" fill="#000"/>
<text x="771.9" y="832" font-size="10.1" fill="#000" stroke="#000" stroke-width="0.25" textLength="48.0" lengthAdjust="spacingAndGlyphs">8 Jun 12:00</text>
<rect x="837" y="820" width="1" height="3" fill="#000"/>
<text x="835.9" y="832" font-size="10.1" fill="#000" stroke="#000" stroke-width="0.25" textLength="48.0" lengthAdjust="spacingAndGlyphs">9 Jun 04:00</text>
<rect x="901" y="820" width="1" height="3" fill="#000"/>
<text x="899.9" y="832" font-size="10.1" fill="#000" stroke="#000" stroke-width="0.25" textLength="53.0" lengthAdjust="spacingAndGlyphs">11 Jun 23:00</text>
<rect x="965" y="820" width="1" height="3" fill="#000"/>
<text x="963.9" y="832" font-size="10.1" fill="#000" stroke="#000" stroke-width="0.25" textLength="53.0" lengthAdjust="spacingAndGlyphs">12 Jun 12:00</text>
<rect x="1029" y="820" width="1" height="3" fill="#000"/>
<text x="1027.9" y="832" font-size="10.1" fill="#000" stroke="#000" stroke-width="0.25" textLength="53.0" lengthAdjust="spacingAndGlyphs">13 Jun 04:00</text>
<rect x="1093" y="820" width="1" height="3" fill="#000"/>
<text x="1091.9" y="832" font-size="10.1" fill="#000" stroke="#000" stroke-width="0.25" textLength="53.0" lengthAdjust="spacingAndGlyphs">13 Jun 20:00</text>
<rect x="1157" y="820" width="1" height="3" fill="#000"/>
<text x="1155.9" y="832" font-size="10.1" fill="#000" stroke="#000" stroke-width="0.25" textLength="53.0" lengthAdjust="spacingAndGlyphs">14 Jun 12:00</text>
<rect x="1221" y="820" width="1" height="3" fill="#000"/>
<text x="1219.9" y="832" font-size="10.1" fill="#000" stroke="#000" stroke-width="0.25" textLength="53.0" lengthAdjust="spacingAndGlyphs">15 Jun 04:00</text>
<rect x="1285" y="820" width="1" height="3" fill="#000"/>
<text x="1283.9" y="832" font-size="10.1" fill="#000" stroke="#000" stroke-width="0.25" textLength="53.0" lengthAdjust="spacingAndGlyphs">15 Jun 20:00</text>
<rect x="1349" y="820" width="1" height="3" fill="#000"/>
<text x="1347.9" y="832" font-size="10.1" fill="#000" stroke="#000" stroke-width="0.25" textLength="53.0" lengthAdjust="spacingAndGlyphs">16 Jun 12:00</text>
<defs><pattern id="chk" width="2" height="2" patternUnits="userSpaceOnUse"><rect width="2" height="2" fill="#ffffff"/><rect width="1" height="1" fill="#f0f0f0"/><rect x="1" y="1" width="1" height="1" fill="#f0f0f0"/></pattern>
<linearGradient id="gplus" x1="0" y1="0" x2="1" y2="1"><stop offset="0" stop-color="#7df07d"/><stop offset="1" stop-color="#12b012"/></linearGradient>
<linearGradient id="ggold" x1="0" y1="0" x2="1" y2="1"><stop offset="0" stop-color="#fbd838"/><stop offset="0.55" stop-color="#f3c21c"/><stop offset="1" stop-color="#f8e078"/></linearGradient>
<linearGradient id="gred" x1="0" y1="0" x2="0" y2="1"><stop offset="0" stop-color="#ea5236"/><stop offset="1" stop-color="#d81c0c"/></linearGradient>
<linearGradient id="gcandle" x1="0" y1="0" x2="1" y2="0"><stop offset="0" stop-color="#9af59a"/><stop offset="1" stop-color="#22c422"/></linearGradient>
<linearGradient id="gblue" x1="0" y1="0" x2="0" y2="1"><stop offset="0" stop-color="#58b4ff"/><stop offset="1" stop-color="#1276e8"/></linearGradient>
<linearGradient id="gcloud" x1="0" y1="0" x2="0" y2="1"><stop offset="0" stop-color="#ffffff"/><stop offset="1" stop-color="#b8c8e4"/></linearGradient>
<linearGradient id="ghat" x1="0" y1="0" x2="0" y2="1"><stop offset="0" stop-color="#8ccdf0"/><stop offset="1" stop-color="#3a8cc8"/></linearGradient>
<linearGradient id="gclock" x1="0" y1="0" x2="0.3" y2="1"><stop offset="0" stop-color="#3a92f4"/><stop offset="0.5" stop-color="#1464d8"/><stop offset="1" stop-color="#0a48b0"/></linearGradient>
</defs>
<rect x="5" y="1" width="1" height="21" fill="#a0a0a0"/>
<g shape-rendering="geometricPrecision">
<path d="M15.5,4.5 h8 l3.5,3.5 v10 h-11.5 z" fill="#fff" stroke="#8a8a8a" stroke-width="1"/>
<path d="M23.5,4.5 v3.5 h3.5" fill="#e4e4e4" stroke="#8a8a8a" stroke-width="0.8"/>
<rect x="17" y="6" width="3" height="1" fill="#8c8c8c"/>
<rect x="17" y="9" width="6" height="1" fill="#8c8c8c"/>
<rect x="17" y="11" width="6" height="1" fill="#8c8c8c"/>
<rect x="17" y="13" width="4" height="1" fill="#8c8c8c"/>
<path d="M23.6,10.6 h3 v4 h4 v3 h-4 v4 h-3 v-4 h-4 v-3 h4 z" fill="url(#gplus)" stroke="#16a016" stroke-width="0.9"/>
<path d="M87.8,4.9 L97,11.4 L98,13.8 L89.7,19.7 L82,13.8 Q85.4,11.4 86,8.6 Z" fill="#c08418" stroke="#b07a14" stroke-width="0.7"/>
<path d="M90,17.6 L97.2,12.4 L97.6,13.8 L89.9,19.2 Z" fill="#e8dca0"/>
<path d="M82.6,13.8 L89.6,19 L90,17.4 L84,12.8 Z" fill="#f6dc80"/>
<path d="M88,6 L96.2,11.9 L89.7,16.8 L84.4,12.6 Q86.6,10.4 87.2,7.8 Z" fill="url(#ggold)"/>
<path d="M112,5 L116,4 L122.8,5.6 V14 H112 Z" fill="url(#gblue)" stroke="#2088ee" stroke-width="0.6"/>
<path d="M112,5 L115.2,6.6 V14 H112 Z" fill="#1f8ef4"/>
<path d="M112.2,5 L115.3,6.6 V13" fill="none" stroke="#d8f0ff" stroke-width="0.8"/>
<path d="M116.6,9 L121.4,8.2 V9.4 L116.6,10 Z" fill="#e8f6ff"/>
<path d="M112.4,19.6 a3.1,3.1 0 0 1 0.3,-6.1 a3.4,3.4 0 0 1 5.6,-1.2 a3.2,3.2 0 0 1 4.8,1.6 a2.9,2.9 0 0 1 0.2,5.7 z" fill="url(#gcloud)" stroke="#5874ac" stroke-width="0.9"/>
<path d="M146,4.200000000000001 a7.6,7.6 0 0 0 0,15.2" fill="none" stroke="#3a6ad8" stroke-width="1" opacity="0.55"/>
<path d="M146,4.200000000000001 a7.6,7.6 0 0 1 0,15.2" fill="none" stroke="#58a858" stroke-width="1" opacity="0.55"/>
<path d="M146,6.6000000000000005 a5.2,5.2 0 0 0 0,10.4" fill="none" stroke="#3a6ad8" stroke-width="1" opacity="0.75"/>
<path d="M146,6.6000000000000005 a5.2,5.2 0 0 1 0,10.4" fill="none" stroke="#58a858" stroke-width="1" opacity="0.75"/>
<path d="M146,8.9 a2.9,2.9 0 0 0 0,5.8" fill="none" stroke="#3a6ad8" stroke-width="1" opacity="0.9"/>
<path d="M146,8.9 a2.9,2.9 0 0 1 0,5.8" fill="none" stroke="#58a858" stroke-width="1" opacity="0.9"/>
<path d="M146,11.8 L153.6,11.8 A7.6,7.6 0 0 1 146,19.4 Z" fill="#7cc07c" opacity="0.55"/>
<circle cx="146" cy="11.6" r="1.7" fill="#2a55d0"/>
<rect x="145.5" y="12" width="1.4" height="7.8" fill="#22a022"/>
<path d="M166,11.4 L180.4,10.8 L177,17 L174.4,19.8 Z" fill="#f6d648" stroke="#d0a820" stroke-width="0.7"/>
<ellipse cx="173.2" cy="9.6" rx="7.6" ry="2.5" fill="url(#ghat)" stroke="#2a7ab8" stroke-width="0.8"/>
<ellipse cx="173" cy="6.8" rx="3.8" ry="2.9" fill="url(#ghat)" stroke="#2a7ab8" stroke-width="0.8"/>
<circle cx="177.6" cy="15.7" r="4.1" fill="#e02810" stroke="#c01808" stroke-width="0.6"/>
<rect x="176" y="14.2" width="3.2" height="3" fill="#fff"/>
</g>
<text x="34" y="15.6" font-size="12" fill="#000" stroke="#000" stroke-width="0.1">新订单</text>
<text x="186" y="15.6" font-size="12" fill="#000" stroke="#000" stroke-width="0.1">自动交易</text>
<rect x="241" y="0" width="1" height="23" fill="#a0a0a0"/>
<rect x="242" y="0" width="1" height="23" fill="#ffffff"/>
<rect x="245" y="2" width="3" height="1" fill="#a8a8a8"/>
<rect x="245" y="4" width="3" height="1" fill="#a8a8a8"/>
<rect x="245" y="6" width="3" height="1" fill="#a8a8a8"/>
<rect x="245" y="8" width="3" height="1" fill="#a8a8a8"/>
<rect x="245" y="10" width="3" height="1" fill="#a8a8a8"/>
<rect x="245" y="12" width="3" height="1" fill="#a8a8a8"/>
<rect x="245" y="14" width="3" height="1" fill="#a8a8a8"/>
<rect x="245" y="16" width="3" height="1" fill="#a8a8a8"/>
<rect x="245" y="18" width="3" height="1" fill="#a8a8a8"/>
<rect x="245" y="20" width="3" height="1" fill="#a8a8a8"/>
<rect x="259" y="6" width="1" height="14" fill="#505050"/>
<rect x="257" y="17" width="14" height="1" fill="#505050"/>
<rect x="258" y="7" width="3" height="1" fill="#505050"/>
<rect x="269" y="16" width="1" height="3" fill="#505050"/>
<rect x="270" y="17" width="1" height="1" fill="#505050"/>
<path d="M265.6,7.4 V15.8 M265.6,8.5 H268.2 M263,14.5 H265.6" fill="none" stroke="#1a9a1a" stroke-width="1.4" shape-rendering="geometricPrecision"/>
<rect x="279" y="0" width="25" height="22" fill="url(#chk)"/>
<rect x="279" y="0" width="25" height="1" fill="#a0a0a0"/>
<rect x="279" y="0" width="1" height="22" fill="#a0a0a0"/>
<rect x="304" y="0" width="1" height="23" fill="#ffffff"/>
<rect x="279" y="22" width="26" height="1" fill="#ffffff"/>
<rect x="287" y="6" width="1" height="14" fill="#505050"/>
<rect x="285" y="17" width="14" height="1" fill="#505050"/>
<rect x="286" y="7" width="3" height="1" fill="#505050"/>
<rect x="297" y="16" width="1" height="3" fill="#505050"/>
<rect x="298" y="17" width="1" height="1" fill="#505050"/>
<g shape-rendering="geometricPrecision">
<rect x="293" y="4" width="1.4" height="12" fill="#1a9a1a"/>
<rect x="291.6" y="6.3" width="4.2" height="7.6" fill="url(#gcandle)" stroke="#1a9a1a" stroke-width="1"/>
</g>
<rect x="315" y="6" width="1" height="14" fill="#505050"/>
<rect x="313" y="17" width="14" height="1" fill="#505050"/>
<rect x="314" y="7" width="3" height="1" fill="#505050"/>
<rect x="325" y="16" width="1" height="3" fill="#505050"/>
<rect x="326" y="17" width="1" height="1" fill="#505050"/>
<path d="M314,14.5 C317,13.5 318.5,9 320.2,9.2 C322,9.4 323.5,12.6 326,13" fill="none" stroke="#2a9a2a" stroke-width="1.2" shape-rendering="geometricPrecision"/>
<rect x="336" y="1" width="1" height="21" fill="#a0a0a0"/>
<g shape-rendering="geometricPrecision">
<line x1="355.2" y1="14.4" x2="359.6" y2="18.6" stroke="#a07808" stroke-width="3.6" stroke-linecap="round"/>
<line x1="355.4" y1="14.6" x2="359.4" y2="18.4" stroke="#f0cc30" stroke-width="2" stroke-linecap="round"/>
<circle cx="351" cy="10" r="5.5" fill="#d4f2fc" stroke="#2a7fd0" stroke-width="1.3"/>
<rect x="348" y="9.2" width="6" height="1.7" fill="#3a88b8"/>
<rect x="350.15" y="7" width="1.7" height="6" fill="#3a88b8"/>
<line x1="383.2" y1="14.4" x2="387.6" y2="18.6" stroke="#a07808" stroke-width="3.6" stroke-linecap="round"/>
<line x1="383.4" y1="14.6" x2="387.4" y2="18.4" stroke="#f0cc30" stroke-width="2" stroke-linecap="round"/>
<circle cx="379" cy="10" r="5.5" fill="#d4f2fc" stroke="#2a7fd0" stroke-width="1.3"/>
<rect x="376" y="9.2" width="6" height="1.7" fill="#3a88b8"/>
</g>
<rect x="401" y="4" width="8" height="8" fill="#2e9a1e"/>
<rect x="402" y="6" width="6" height="5" fill="#fff"/>
<rect x="403" y="8" width="4" height="1" fill="#9ad088"/>
<rect x="404" y="10" width="2" height="1" fill="#2e9a1e"/>
<rect x="402" y="5" width="1" height="1" fill="#dfe"/>
<rect x="409" y="4" width="8" height="8" fill="#1a4fd0"/>
<rect x="410" y="6" width="6" height="5" fill="#fff"/>
<rect x="411" y="8" width="4" height="1" fill="#8aa8f0"/>
<rect x="412" y="10" width="2" height="1" fill="#1a4fd0"/>
<rect x="410" y="5" width="1" height="1" fill="#dfe"/>
<rect x="401" y="12" width="8" height="8" fill="#1a4fd0"/>
<rect x="402" y="14" width="6" height="5" fill="#fff"/>
<rect x="403" y="16" width="4" height="1" fill="#8aa8f0"/>
<rect x="404" y="18" width="2" height="1" fill="#1a4fd0"/>
<rect x="402" y="13" width="1" height="1" fill="#dfe"/>
<rect x="409" y="12" width="8" height="8" fill="#2e9a1e"/>
<rect x="410" y="14" width="6" height="5" fill="#fff"/>
<rect x="411" y="16" width="4" height="1" fill="#9ad088"/>
<rect x="412" y="18" width="2" height="1" fill="#2e9a1e"/>
<rect x="410" y="13" width="1" height="1" fill="#dfe"/>
<rect x="426" y="1" width="1" height="21" fill="#a0a0a0"/>
<rect x="431" y="0" width="25" height="22" fill="url(#chk)"/>
<rect x="431" y="0" width="25" height="1" fill="#a0a0a0"/>
<rect x="431" y="0" width="1" height="22" fill="#a0a0a0"/>
<rect x="456" y="0" width="1" height="23" fill="#ffffff"/>
<rect x="431" y="22" width="26" height="1" fill="#ffffff"/>
<rect x="439" y="6" width="1" height="14" fill="#505050"/>
<rect x="437" y="17" width="14" height="1" fill="#505050"/>
<rect x="438" y="7" width="3" height="1" fill="#505050"/>
<rect x="449" y="16" width="1" height="3" fill="#505050"/>
<rect x="450" y="17" width="1" height="1" fill="#505050"/>
<path d="M444.2,8.2 L444.2,14.8 L448.2,11.5 Z" fill="#66dd66" stroke="#1a9a1a" stroke-width="1" shape-rendering="geometricPrecision"/>
<rect x="459" y="0" width="25" height="22" fill="url(#chk)"/>
<rect x="459" y="0" width="25" height="1" fill="#a0a0a0"/>
<rect x="459" y="0" width="1" height="22" fill="#a0a0a0"/>
<rect x="484" y="0" width="1" height="23" fill="#ffffff"/>
<rect x="459" y="22" width="26" height="1" fill="#ffffff"/>
<rect x="467" y="6" width="1" height="14" fill="#505050"/>
<rect x="465" y="17" width="14" height="1" fill="#505050"/>
<rect x="466" y="7" width="3" height="1" fill="#505050"/>
<rect x="477" y="16" width="1" height="3" fill="#505050"/>
<rect x="478" y="17" width="1" height="1" fill="#505050"/>
<rect x="473" y="6" width="1" height="10" fill="#1a6fa8"/>
<path d="M474.4,11.5 L479,11.5 M474.6,11.5 L477.4,9 M474.6,11.5 L477.4,14" stroke="#e05a00" stroke-width="1.1" fill="none" shape-rendering="geometricPrecision"/>
<rect x="488" y="1" width="1" height="21" fill="#a0a0a0"/>
<g shape-rendering="geometricPrecision">
<path d="M498.5,4.5 h8 l3.5,3.5 v10 h-11.5 z" fill="#fff" stroke="#8a8a8a" stroke-width="1"/>
<path d="M506.5,4.5 v3.5 h3.5" fill="#e4e4e4" stroke="#8a8a8a" stroke-width="0.8"/>
<path d="M503.2,8 q-1.6,0.4 -1.6,2 v3 M503,11 h-2" fill="none" stroke="#6a6048" stroke-width="0.9"/>
<path d="M506.6,10.6 h3 v4 h4 v3 h-4 v4 h-3 v-4 h-4 v-3 h4 z" fill="url(#gplus)" stroke="#16a016" stroke-width="0.9"/>
</g>
<rect x="520" y="11" width="5" height="1" fill="#000"/>
<rect x="521" y="12" width="3" height="1" fill="#000"/>
<rect x="522" y="13" width="1" height="1" fill="#000"/>
<g shape-rendering="geometricPrecision">
<circle cx="544" cy="11.9" r="6.7" fill="#fff" stroke="url(#gclock)" stroke-width="2.7"/>
<circle cx="544" cy="11.9" r="7.9" fill="none" stroke="#0e50b0" stroke-width="0.5"/>
<path d="M543.7,8.2 V12.1 H547.2" fill="none" stroke="#101010" stroke-width="1.2"/>
<circle cx="544.00" cy="7.60" r="0.5" fill="#606060"/>
<circle cx="546.15" cy="8.18" r="0.5" fill="#606060"/>
<circle cx="547.72" cy="9.75" r="0.5" fill="#606060"/>
<circle cx="548.30" cy="11.90" r="0.5" fill="#606060"/>
<circle cx="547.72" cy="14.05" r="0.5" fill="#606060"/>
<circle cx="546.15" cy="15.62" r="0.5" fill="#606060"/>
<circle cx="544.00" cy="16.20" r="0.5" fill="#606060"/>
<circle cx="541.85" cy="15.62" r="0.5" fill="#606060"/>
<circle cx="540.28" cy="14.05" r="0.5" fill="#606060"/>
<circle cx="539.70" cy="11.90" r="0.5" fill="#606060"/>
<circle cx="540.28" cy="9.75" r="0.5" fill="#606060"/>
<circle cx="541.85" cy="8.18" r="0.5" fill="#606060"/>
<rect x="543" y="14.2" width="2" height="0.8" fill="#58a0f0"/>
</g>
<rect x="559" y="11" width="5" height="1" fill="#000"/>
<rect x="560" y="12" width="3" height="1" fill="#000"/>
<rect x="561" y="13" width="1" height="1" fill="#000"/>
<rect x="575" y="5" width="16" height="14" fill="#2a6fc0"/>
<rect x="576" y="7" width="14" height="11" fill="#fff"/>
<rect x="576" y="5" width="14" height="1" fill="#5a9ae0"/>
<rect x="576" y="6" width="14" height="1" fill="#8cc0f4"/>
<rect x="576" y="12" width="14" height="1" fill="#2a6fc0"/>
<rect x="576" y="13" width="14" height="1" fill="#d8e8f8"/>
<path d="M577.5,11 h2 l1.6,-1 h1.2 l1.4,-1 l1.4,1.2 h1.4 l1,-1.2 h1.2" fill="none" stroke="#982000" stroke-width="1.3" shape-rendering="geometricPrecision"/>
<path d="M578,16.5 h1.6 l1.4,-1.2 l1.6,1.2 h1.2 l1.8,-2.2 l1.4,0.2 l1.6,2" fill="none" stroke="#0c7c1c" stroke-width="1.3" shape-rendering="geometricPrecision"/>
<rect x="598" y="11" width="5" height="1" fill="#000"/>
<rect x="599" y="12" width="3" height="1" fill="#000"/>
<rect x="600" y="13" width="1" height="1" fill="#000"/>
<rect x="609" y="0" width="1" height="23" fill="#a0a0a0"/>
<rect x="610" y="0" width="1" height="23" fill="#ffffff"/>
<rect x="613" y="2" width="3" height="1" fill="#a8a8a8"/>
<rect x="613" y="4" width="3" height="1" fill="#a8a8a8"/>
<rect x="613" y="6" width="3" height="1" fill="#a8a8a8"/>
<rect x="613" y="8" width="3" height="1" fill="#a8a8a8"/>
<rect x="613" y="10" width="3" height="1" fill="#a8a8a8"/>
<rect x="613" y="12" width="3" height="1" fill="#a8a8a8"/>
<rect x="613" y="14" width="3" height="1" fill="#a8a8a8"/>
<rect x="613" y="16" width="3" height="1" fill="#a8a8a8"/>
<rect x="613" y="18" width="3" height="1" fill="#a8a8a8"/>
<rect x="613" y="20" width="3" height="1" fill="#a8a8a8"/>
<rect x="619" y="0" width="25" height="22" fill="url(#chk)"/>
<rect x="619" y="0" width="25" height="1" fill="#a0a0a0"/>
<rect x="619" y="0" width="1" height="22" fill="#a0a0a0"/>
<rect x="644" y="0" width="1" height="23" fill="#ffffff"/>
<rect x="619" y="22" width="26" height="1" fill="#ffffff"/>
<path d="M627.1,4.7 L627.1,16 L629.7,13.9 L632.1,18.9 L633.9,18 L631.5,12.9 L635,12.5 Z" fill="#505050" shape-rendering="geometricPrecision"/>
<rect x="652" y="12" width="6" height="1" fill="#505050"/>
<rect x="661" y="12" width="6" height="1" fill="#505050"/>
<rect x="659" y="5" width="1" height="6" fill="#505050"/>
<rect x="659" y="14" width="1" height="6" fill="#505050"/>
<rect x="659" y="12" width="1" height="1" fill="#909090"/>
<rect x="676" y="1" width="1" height="21" fill="#a0a0a0"/>
<rect x="693" y="6" width="1" height="13" fill="#505050"/>
<rect x="694" y="6" width="0.4" height="13" fill="#909090"/>
<rect x="716" y="12" width="12" height="1" fill="#505050"/>
<rect x="716" y="13" width="12" height="0.4" fill="#a0a0a0"/>
<line x1="743.8" y1="18.9" x2="756.2" y2="6.8" stroke="#505050" stroke-width="1.2" shape-rendering="geometricPrecision"/>
<g shape-rendering="geometricPrecision" stroke="#505050" fill="none">
<line x1="770" y1="13.8" x2="778" y2="6" stroke-width="1" stroke-dasharray="1.4 0.7"/>
<line x1="771" y1="17.8" x2="783.2" y2="6" stroke-width="1.1" stroke-dasharray="1.6 0.5"/>
<line x1="775.4" y1="18.6" x2="784.2" y2="10" stroke-width="1" stroke-dasharray="1.4 0.7"/>
<line x1="772.6" y1="17.4" x2="775.4" y2="7.6" stroke-width="1.25"/>
<line x1="775.5" y1="15.659999999999998" x2="778.3" y2="5.859999999999999" stroke-width="1.25"/>
<line x1="778.4" y1="13.919999999999998" x2="781.1999999999999" y2="4.119999999999999" stroke-width="1.25"/>
</g>
<text x="780.6" y="20.8" font-size="7" font-weight="bold" fill="#404040">E</text>
<rect x="799" y="5" width="1" height="1" fill="#505050"/>
<rect x="801" y="5" width="1" height="1" fill="#505050"/>
<rect x="803" y="5" width="1" height="1" fill="#505050"/>
<rect x="805" y="5" width="1" height="1" fill="#505050"/>
<rect x="807" y="5" width="1" height="1" fill="#505050"/>
<rect x="809" y="5" width="1" height="1" fill="#505050"/>
<rect x="811" y="5" width="1" height="1" fill="#505050"/>
<rect x="799" y="8" width="1" height="1" fill="#505050"/>
<rect x="801" y="8" width="1" height="1" fill="#505050"/>
<rect x="803" y="8" width="1" height="1" fill="#505050"/>
<rect x="805" y="8" width="1" height="1" fill="#505050"/>
<rect x="807" y="8" width="1" height="1" fill="#505050"/>
<rect x="809" y="8" width="1" height="1" fill="#505050"/>
<rect x="811" y="8" width="1" height="1" fill="#505050"/>
<rect x="799" y="12" width="1" height="1" fill="#505050"/>
<rect x="801" y="12" width="1" height="1" fill="#505050"/>
<rect x="803" y="12" width="1" height="1" fill="#505050"/>
<rect x="805" y="12" width="1" height="1" fill="#505050"/>
<rect x="807" y="12" width="1" height="1" fill="#505050"/>
<rect x="809" y="12" width="1" height="1" fill="#505050"/>
<rect x="811" y="12" width="1" height="1" fill="#505050"/>
<rect x="799" y="16" width="1" height="1" fill="#505050"/>
<rect x="801" y="16" width="1" height="1" fill="#505050"/>
<rect x="803" y="16" width="1" height="1" fill="#505050"/>
<rect x="805" y="16" width="1" height="1" fill="#505050"/>
<rect x="807" y="16" width="1" height="1" fill="#505050"/>
<text x="808.6" y="20.8" font-size="7" font-weight="bold" fill="#404040">F</text>
<text x="829.6" y="16.9" font-size="12.8" fill="#606060" stroke="#606060" stroke-width="0.35" textLength="7.8" lengthAdjust="spacingAndGlyphs">A</text>
<rect x="856" y="6" width="1" height="1" fill="#505050"/>
<rect x="856" y="18" width="1" height="1" fill="#505050"/>
<rect x="858" y="6" width="1" height="1" fill="#505050"/>
<rect x="858" y="18" width="1" height="1" fill="#505050"/>
<rect x="860" y="6" width="1" height="1" fill="#505050"/>
<rect x="860" y="18" width="1" height="1" fill="#505050"/>
<rect x="862" y="6" width="1" height="1" fill="#505050"/>
<rect x="862" y="18" width="1" height="1" fill="#505050"/>
<rect x="864" y="6" width="1" height="1" fill="#505050"/>
<rect x="864" y="18" width="1" height="1" fill="#505050"/>
<rect x="866" y="6" width="1" height="1" fill="#505050"/>
<rect x="866" y="18" width="1" height="1" fill="#505050"/>
<rect x="856" y="6" width="1" height="1" fill="#505050"/>
<rect x="867" y="6" width="1" height="1" fill="#505050"/>
<rect x="856" y="8" width="1" height="1" fill="#505050"/>
<rect x="867" y="8" width="1" height="1" fill="#505050"/>
<rect x="856" y="10" width="1" height="1" fill="#505050"/>
<rect x="867" y="10" width="1" height="1" fill="#505050"/>
<rect x="856" y="12" width="1" height="1" fill="#505050"/>
<rect x="867" y="12" width="1" height="1" fill="#505050"/>
<rect x="856" y="14" width="1" height="1" fill="#505050"/>
<rect x="867" y="14" width="1" height="1" fill="#505050"/>
<rect x="856" y="16" width="1" height="1" fill="#505050"/>
<rect x="867" y="16" width="1" height="1" fill="#505050"/>
<rect x="856" y="18" width="1" height="1" fill="#505050"/>
<rect x="867" y="18" width="1" height="1" fill="#505050"/>
<rect x="855" y="5" width="2" height="1" fill="#505050"/>
<path d="M858,9 h8 v1.5 h-3.2 v6.2 h-1.6 v-6.2 h-3.2 z" fill="#5a5a5a" shape-rendering="geometricPrecision"/>
<g shape-rendering="geometricPrecision" fill="#505050">
<path d="M886.6,5.8 L890,9 L888.4,10.2 L884.8,10.2 L883.2,9 Z"/>
<path d="M893.6,18.6 L890.2,15.4 L891.8,14.2 L895.4,14.2 L897,15.4 Z"/>
<path d="M885.4,13 L887.4,15 L891.8,9.6" fill="none" stroke="#505050" stroke-width="1.3"/>
</g>
<rect x="904" y="11" width="5" height="1" fill="#000"/>
<rect x="905" y="12" width="3" height="1" fill="#000"/>
<rect x="906" y="13" width="1" height="1" fill="#000"/>
<rect x="915" y="0" width="1" height="23" fill="#a0a0a0"/>
<rect x="916" y="0" width="1" height="23" fill="#ffffff"/>
<rect x="919" y="2" width="3" height="1" fill="#a8a8a8"/>
<rect x="919" y="4" width="3" height="1" fill="#a8a8a8"/>
<rect x="919" y="6" width="3" height="1" fill="#a8a8a8"/>
<rect x="919" y="8" width="3" height="1" fill="#a8a8a8"/>
<rect x="919" y="10" width="3" height="1" fill="#a8a8a8"/>
<rect x="919" y="12" width="3" height="1" fill="#a8a8a8"/>
<rect x="919" y="14" width="3" height="1" fill="#a8a8a8"/>
<rect x="919" y="16" width="3" height="1" fill="#a8a8a8"/>
<rect x="919" y="18" width="3" height="1" fill="#a8a8a8"/>
<rect x="919" y="20" width="3" height="1" fill="#a8a8a8"/>
<rect x="1065" y="0" width="25" height="22" fill="url(#chk)"/>
<rect x="1065" y="0" width="25" height="1" fill="#a0a0a0"/>
<rect x="1065" y="0" width="1" height="22" fill="#a0a0a0"/>
<rect x="1090" y="0" width="1" height="23" fill="#ffffff"/>
<rect x="1065" y="22" width="26" height="1" fill="#ffffff"/>
<text x="930.6" y="16" font-size="10.1" fill="#3c3c3c" stroke="#3c3c3c" stroke-width="0.2" textLength="12.6" lengthAdjust="spacingAndGlyphs">M1</text>
<text x="958.7" y="16" font-size="10.1" fill="#3c3c3c" stroke="#3c3c3c" stroke-width="0.2" textLength="12.6" lengthAdjust="spacingAndGlyphs">M5</text>
<text x="984.6" y="16" font-size="10.1" fill="#3c3c3c" stroke="#3c3c3c" stroke-width="0.2" textLength="17.6" lengthAdjust="spacingAndGlyphs">M15</text>
<text x="1012.5" y="16" font-size="10.1" fill="#3c3c3c" stroke="#3c3c3c" stroke-width="0.2" textLength="17.5" lengthAdjust="spacingAndGlyphs">M30</text>
<text x="1043.5" y="16" font-size="10.1" fill="#3c3c3c" stroke="#3c3c3c" stroke-width="0.2" textLength="11.8" lengthAdjust="spacingAndGlyphs">H1</text>
<text x="1070.5" y="16" font-size="10.1" fill="#3c3c3c" stroke="#3c3c3c" stroke-width="0.2" textLength="12.4" lengthAdjust="spacingAndGlyphs">H4</text>
<text x="1099.4" y="16" font-size="10.1" fill="#3c3c3c" stroke="#3c3c3c" stroke-width="0.2" textLength="11.8" lengthAdjust="spacingAndGlyphs">D1</text>
<text x="1126.7" y="16" font-size="10.1" fill="#3c3c3c" stroke="#3c3c3c" stroke-width="0.2" textLength="14.2" lengthAdjust="spacingAndGlyphs">W1</text>
<text x="1153.6" y="16" font-size="10.1" fill="#3c3c3c" stroke="#3c3c3c" stroke-width="0.2" textLength="14.7" lengthAdjust="spacingAndGlyphs">MN</text>
<rect x="1176" y="0" width="1" height="23" fill="#a0a0a0"/>
<rect x="1177" y="0" width="1" height="23" fill="#ffffff"/>
<g shape-rendering="geometricPrecision">
<line x1="1643.2" y1="12.6" x2="1639.2" y2="16.8" stroke="#2a55d8" stroke-width="2.6"/>
<line x1="1642.4" y1="12.2" x2="1638.6" y2="16.2" stroke="#88a8f0" stroke-width="0.5" stroke-dasharray="0.8 0.8"/>
<circle cx="1646.6" cy="9.5" r="4" fill="#f6f6fb" stroke="#2a55d8" stroke-width="1.3"/>
<path d="M1666.2,18 L1666.6,20.6 L1669,18.4 Z" fill="#d8d8e4" stroke="#a0a0a0" stroke-width="0.7"/>
<ellipse cx="1668.8" cy="14" rx="5.8" ry="4.5" fill="#e4e4ee" stroke="#a8a8a8" stroke-width="0.9"/>
<ellipse cx="1668.4" cy="12" rx="4.4" ry="2" fill="#f8f8fb"/>
<circle cx="1677.4" cy="9.5" r="8.2" fill="url(#gred)"/>
</g>
<text x="1677.5" y="13.9" font-size="12.5" font-family="'DejaVu Sans','Liberation Sans',sans-serif" fill="#fff" stroke="#fff" stroke-width="0.35" text-anchor="middle">1</text>
</svg>
</body></html>
